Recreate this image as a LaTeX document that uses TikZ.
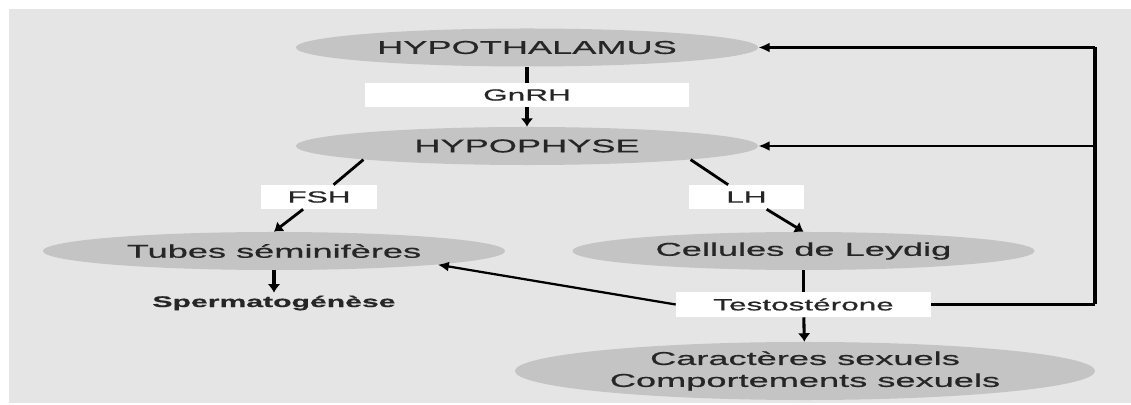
\documentclass[tikz,border=0pt]{standalone}
\usepackage{fontspec}
\setmainfont{Liberation Sans}[FakeStretch=1.95,FakeBold=0.7]
\usetikzlibrary{shapes.geometric,arrows.meta}

\definecolor{paper}{RGB}{229,229,229}
\definecolor{organgray}{RGB}{196,196,196}
\definecolor{ink}{RGB}{38,38,38}
\newcommand{\organfont}{\fontsize{13.2}{15.6}\selectfont}
\newcommand{\hormonefont}{\fontsize{11.5}{14}\selectfont}

\begin{document}
\begin{tikzpicture}[
    x=0.025cm, y=-0.025cm,
    organ/.style={ellipse,fill=organgray,text=ink,inner sep=0pt,minimum width=11.55cm,minimum height=0.95cm,font=\organfont},
    hormone/.style={rectangle,fill=white,text=ink,inner sep=0pt,minimum height=0.6cm,font=\hormonefont},
    link/.style={draw,line width=2.2pt},
    flow/.style={link,-{Latex[length=6pt,width=9pt]}},
    back/.style={draw,line width=1.9pt,-{Latex[length=8pt,width=7pt]}}]

    % Background
    \useasboundingbox (0,0) rectangle (1131,405);
    \fill[paper] (9,9) rectangle (1131,403);

    % Brain
    \node[organ] (hypothal) at (527,47.5) {HYPOTHALAMUS};
    \node[hormone,minimum width=8.075cm] (gnrh) at (527,95) {GnRH};
    \node[organ] (hypoph) at (527,146) {HYPOPHYSE};

    % Gonadotropins
    \node[hormone,minimum width=2.9cm] (fsh) at (319,197) {FSH};
    \node[hormone,minimum width=2.875cm] (lh) at (746.5,197) {LH};

    % Testis
    \node[organ] (tubes) at (274,251) {Tubes séminifères};
    \node[organ] (leydig) at (803.5,251) {Cellules de Leydig};
    \node[text=ink,inner sep=2pt,font=\fontsize{11}{13}\selectfont\bfseries] (sperm) at (274,303) {Spermatogénèse};
    \node[hormone,minimum width=6.375cm,minimum height=0.625cm] (testo) at (803.5,304.5) {Testostérone};
    \node[organ,minimum width=14.5cm,minimum height=1.45cm,align=center] (caract) at (805,371) {Caractères sexuels\\Comportements sexuels};

    % Feedback rail
    \coordinate (railtop) at (1095,47.5);
    \coordinate (railbot) at (1095,304.5);

    % Connect organs
    \path[link] (hypothal) -- (gnrh);
    \path[flow] (gnrh) -- (hypoph);
    \path[link,line width=2pt] (hypoph.south west) -- (fsh);
    \path[flow,line width=2pt] (fsh) -- (tubes.north);
    \path[link,line width=2pt] (hypoph.south east) -- (lh);
    \path[flow,line width=2pt] (lh) -- (leydig.north);
    \path[flow] (tubes) -- (sperm);
    \path[link] (leydig) -- (testo);
    \path[flow] (testo) -- (caract);
    \path[back,line width=1.6pt] (testo.west) -- (tubes.south east);

    % Retrocontrol
    \path[link,line width=1.9pt] (testo.east) -- (railbot);
    \path[link,line width=2.8pt] (railbot) -- (railtop);
    \path[back] (railtop) -- (hypothal.east);
    \path[back] (hypoph.east -| railtop) -- (hypoph.east);
\end{tikzpicture}
\end{document}
